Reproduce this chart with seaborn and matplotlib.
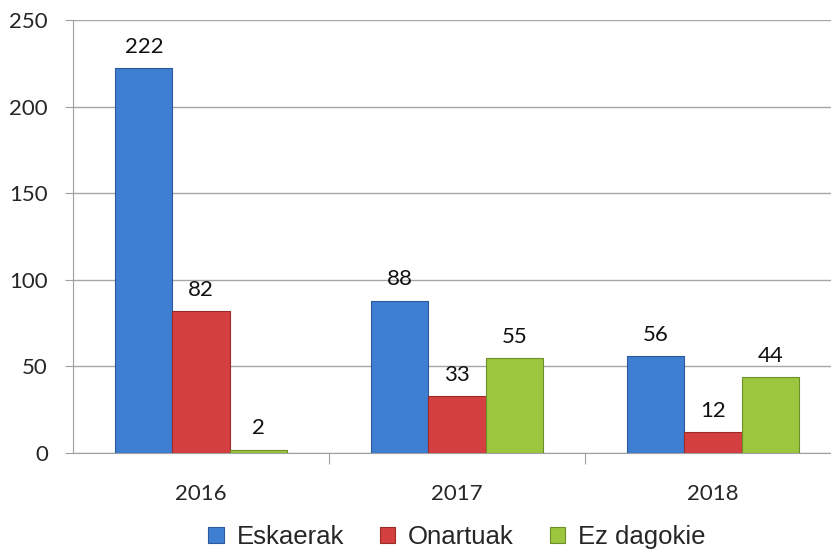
import pandas as pd
import matplotlib.pyplot as plt
import seaborn as sns

years = ['2016', '2017', '2018']
eskaerak = [222, 88, 56]
onartuak = [82, 33, 12]
ez_dagokie = [2, 55, 44]
series = ['Eskaerak', 'Onartuak', 'Ez dagokie']
colors = ['#3f7fd2', '#d4403f', '#9cc63e']
edges = ['#2a5a9a', '#9a2a2a', '#6e8f28']

data = pd.DataFrame({
    'year': years * 3,
    'serie': [s for s in series for _ in years],
    'value': eskaerak + onartuak + ez_dagokie,
})

sns.set_style('white')
plt.rcParams['font.family'] = ['Lato', 'DejaVu Sans']

fig = plt.figure(figsize=(8.31, 5.54), dpi=100)
ax = fig.add_axes([73 / 831, 101 / 554, 768 / 831, 433 / 554])

sns.barplot(data=data, x='year', y='value', hue='serie', palette=colors,
            saturation=1, width=0.67, ax=ax, legend=False, zorder=3)

for i, patch in enumerate(ax.patches):
    patch.set_edgecolor(edges[i // 3])
    patch.set_linewidth(0.8)

for cont in ax.containers:
    ax.bar_label(cont, padding=8, fontsize=16, color='#111111')

ax.set_ylim(0, 250)
ax.set_yticks(range(0, 251, 50))
ax.set_xlim(-0.5, 2.5)
ax.set_xticks([0.5, 1.5])
ax.set_xticklabels([])
ax.set_xticks([0, 1, 2], minor=True)
ax.set_xticklabels(years, minor=True)
ax.tick_params(axis='x', which='major', length=8, color='#a0a0a0', direction='out', bottom=True)
ax.tick_params(axis='x', which='minor', length=0, pad=22, labelsize=16)
ax.tick_params(axis='y', length=6, color='#a0a0a0', labelsize=16, left=True, pad=12)
ax.grid(axis='y', color='#a6a6a6', linewidth=1, zorder=0)
ax.set_axisbelow(True)
ax.set_xlabel('')
ax.set_ylabel('')

for side in ['top', 'right']:
    ax.spines[side].set_visible(False)
for side in ['left', 'bottom']:
    ax.spines[side].set_color('#a0a0a0')

handles = [plt.Rectangle((0, 0), 1, 1, facecolor=c, edgecolor=e, linewidth=0.8)
           for c, e in zip(colors, edges)]
fig.legend(handles, series, loc='center', bbox_to_anchor=(0.55, 1 - 537 / 554),
           ncol=3, frameon=False, handlelength=0.6, handleheight=0.6,
           handletextpad=0.5, columnspacing=1.4,
           prop={'family': 'Liberation Sans', 'size': 18.5})

fig.savefig('out.png', dpi=100)
